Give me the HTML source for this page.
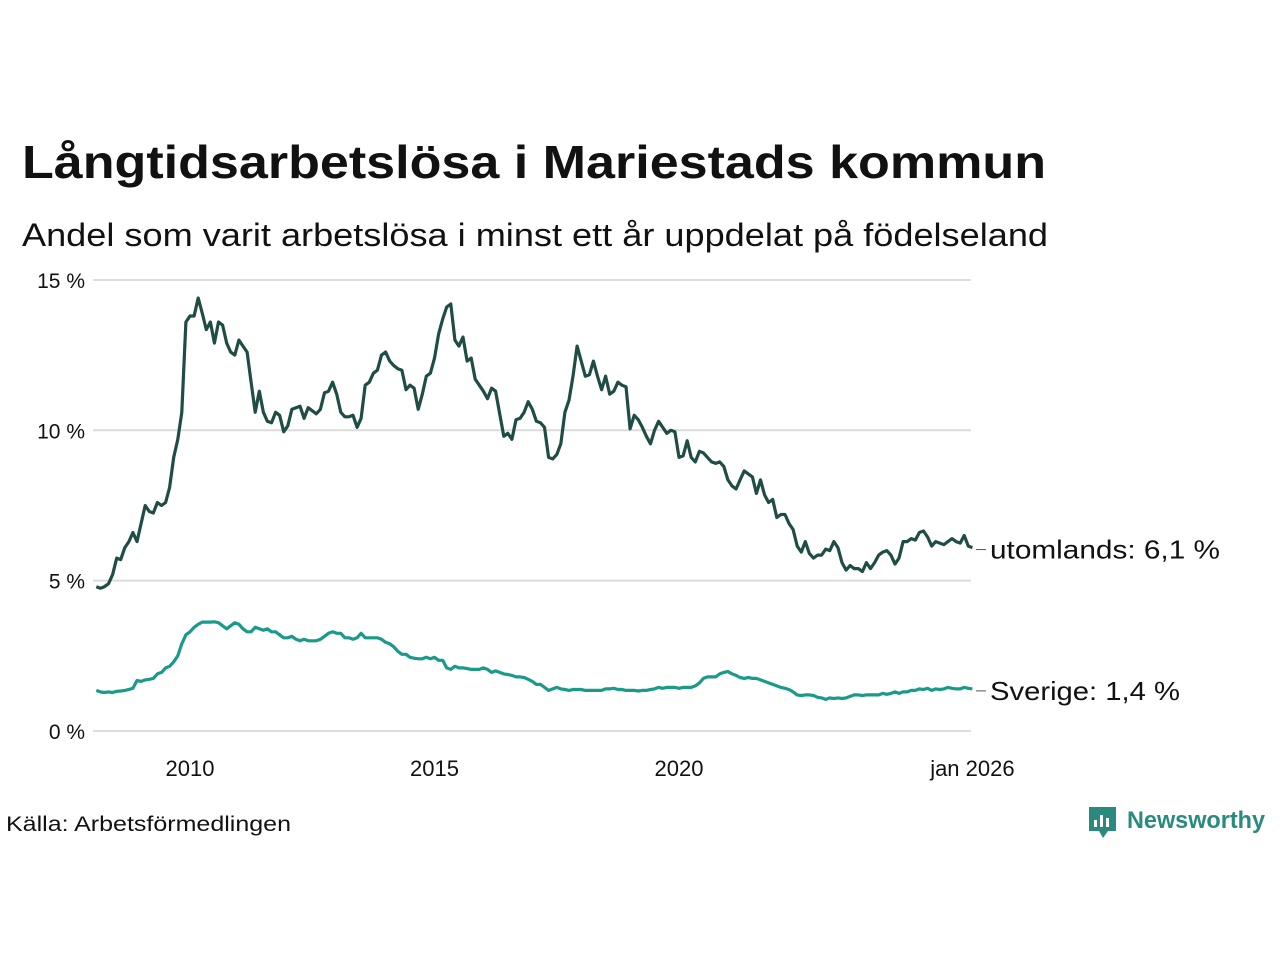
<!DOCTYPE html>
<html><head><meta charset="utf-8"><style>
body{margin:0;background:#fff;width:1280px;height:960px;overflow:hidden;font-family:"Liberation Sans",sans-serif}
</style></head><body>
<svg id="chart" width="1280" height="960" xmlns="http://www.w3.org/2000/svg" font-family="Liberation Sans, sans-serif">
<text x="22" y="178" font-size="46" font-weight="bold" fill="#111" textLength="1024" lengthAdjust="spacingAndGlyphs">Långtidsarbetslösa i Mariestads kommun</text>
<text x="22" y="246" font-size="32" fill="#111" textLength="1026" lengthAdjust="spacingAndGlyphs">Andel som varit arbetslösa i minst ett år uppdelat på födelseland</text>
<g id="grid"></g><g id="lines"></g>
<text x="6" y="831" font-size="21" fill="#111" textLength="285" lengthAdjust="spacingAndGlyphs">Källa: Arbetsförmedlingen</text>
<g>
<path d="M1089 807h27v24h-8l-5 7-4-7h-10z" fill="#2a8a7e"/>
<rect x="1094" y="820" width="3" height="7" fill="#fff"/><rect x="1100" y="815" width="3" height="12" fill="#fff"/><rect x="1106" y="818" width="3" height="9" fill="#fff"/>
<text x="1127" y="828" font-size="24" font-weight="bold" fill="#2a8a7e" textLength="138" lengthAdjust="spacingAndGlyphs">Newsworthy</text>
</g>
</svg>
<script>
const yTicks=[0,5,10,15];
const yTickLabels=["0 %","5 %","10 %","15 %"];
const xTicks=[2010,2015,2020,2026];
const xTickLabels=["2010","2015","2020","jan 2026"];
const startYear=2008, startMonth=1; // Feb 2008 (0-based month)
const utomlands=[4.8,4.75,4.8,4.9,5.2,5.75,5.7,6.1,6.3,6.6,6.3,
6.9,7.5,7.3,7.25,7.6,7.5,7.6,8.1,9.1,9.7,10.6,13.6,
13.8,13.8,14.4,13.9,13.35,13.6,12.9,13.6,13.5,12.9,12.6,12.5,
13.0,12.8,12.6,11.6,10.6,11.3,10.6,10.3,10.25,10.6,10.5,9.95,
10.15,10.7,10.75,10.8,10.4,10.75,10.65,10.55,10.7,11.25,11.3,11.6,
11.2,10.6,10.45,10.45,10.5,10.1,10.4,11.5,11.6,11.9,12.0,12.5,
12.6,12.3,12.15,12.05,12.0,11.35,11.5,11.4,10.7,11.2,11.8,11.9,
12.4,13.2,13.7,14.1,14.2,13.0,12.8,13.1,12.3,12.4,11.7,11.5,
11.3,11.05,11.4,11.3,10.55,9.8,9.9,9.7,10.35,10.4,10.6,10.95,
10.7,10.3,10.25,10.1,9.1,9.05,9.2,9.55,10.6,11.0,11.8,12.8,
12.3,11.8,11.85,12.3,11.8,11.35,11.8,11.2,11.3,11.6,11.5,11.45,
10.05,10.5,10.35,10.1,9.8,9.55,10.0,10.3,10.1,9.9,10.0,9.95,
9.1,9.15,9.65,9.1,8.95,9.3,9.25,9.1,8.95,8.9,8.95,8.8,
8.35,8.15,8.05,8.35,8.65,8.55,8.45,7.9,8.35,7.85,7.6,7.7,
7.1,7.2,7.2,6.9,6.7,6.15,5.95,6.3,5.9,5.75,5.85,5.85,
6.05,6.0,6.3,6.1,5.6,5.35,5.5,5.4,5.4,5.3,5.6,5.4,
5.6,5.85,5.95,6.0,5.85,5.55,5.75,6.3,6.3,6.4,6.35,6.6,
6.65,6.45,6.15,6.3,6.25,6.2,6.3,6.4,6.3,6.25,6.5,6.15,
6.1];
const sverige=[1.35,1.3,1.28,1.3,1.28,1.32,1.33,1.35,1.38,1.42,1.68,
1.65,1.7,1.72,1.75,1.9,1.95,2.1,2.15,2.3,2.5,2.9,3.2,
3.3,3.45,3.55,3.62,3.62,3.62,3.63,3.6,3.5,3.4,3.5,3.6,
3.55,3.4,3.3,3.3,3.45,3.4,3.35,3.4,3.3,3.3,3.2,3.1,
3.1,3.15,3.05,3.0,3.05,3.0,3.0,3.0,3.05,3.15,3.25,3.3,
3.25,3.25,3.1,3.1,3.05,3.1,3.25,3.1,3.1,3.1,3.1,3.05,
2.95,2.9,2.8,2.65,2.55,2.55,2.45,2.42,2.4,2.4,2.45,2.4,
2.45,2.35,2.35,2.1,2.05,2.15,2.1,2.1,2.08,2.05,2.05,2.05,
2.1,2.05,1.95,2.0,1.95,1.9,1.88,1.85,1.8,1.8,1.78,1.72,
1.65,1.55,1.55,1.45,1.35,1.4,1.45,1.4,1.38,1.35,1.38,1.38,
1.38,1.35,1.35,1.35,1.35,1.35,1.4,1.4,1.42,1.38,1.38,1.35,
1.35,1.35,1.33,1.35,1.35,1.38,1.4,1.45,1.42,1.45,1.45,1.45,
1.42,1.45,1.45,1.45,1.5,1.6,1.75,1.8,1.8,1.8,1.9,1.95,
1.98,1.9,1.85,1.78,1.75,1.78,1.75,1.75,1.7,1.65,1.6,1.55,
1.5,1.45,1.42,1.38,1.3,1.2,1.18,1.2,1.2,1.18,1.12,1.1,
1.05,1.1,1.08,1.1,1.08,1.1,1.15,1.2,1.2,1.18,1.2,1.2,
1.2,1.2,1.25,1.22,1.25,1.3,1.25,1.3,1.3,1.35,1.35,1.4,
1.38,1.42,1.35,1.4,1.38,1.4,1.45,1.42,1.4,1.4,1.45,1.42,
1.4];
const NS="http://www.w3.org/2000/svg";
const X=yr=>190+(yr-2010)*48.9;
const Y=v=>731-v*30.07;
const tOf=i=>startYear+(startMonth+i)/12;
const grid=document.getElementById('grid'), lines=document.getElementById('lines');
function mk(tag,attrs,parent){const e=document.createElementNS(NS,tag);for(const k in attrs)e.setAttribute(k,attrs[k]);parent.appendChild(e);return e;}
yTicks.forEach((t,i)=>{
 const l=mk('line',{x1:93,x2:971,y1:Y(t),y2:Y(t),stroke:'#dcdcdc','stroke-width':2},grid);
 
 
 const tx=mk('text',{x:85,y:Y(t)+8,'text-anchor':'end','font-size':21,fill:'#111'},grid);
 tx.textContent=yTickLabels[i];
 
 
});
xTicks.forEach((t,i)=>{
 const tx=mk('text',{x:X(t),y:776,'text-anchor':'middle','font-size':22,fill:'#111'},grid);
 tx.textContent=xTickLabels[i];
 
 
});
function series(arr,color,name,label,lw){
 const d=arr.map((v,i)=>(i?'L':'M')+X(tOf(i)).toFixed(1)+' '+Y(v).toFixed(1)).join(' ');
 const p=mk('path',{d:d,fill:'none',stroke:color,'stroke-width':3.2,'stroke-linejoin':'round'},lines);
 
 
 const last=arr[arr.length-1], ly=Y(last)+2;
 const t=mk('line',{x1:976,x2:986,y1:ly,y2:ly,stroke:'#555','stroke-width':1},lines);
 
 
 const tx=mk('text',{x:990,y:ly+9,'font-size':26,fill:'#111',textLength:lw,lengthAdjust:'spacingAndGlyphs'},lines);
 tx.textContent=label+': '+last.toFixed(1).replace('.',',')+' %';
 
 
}
series(sverige,'#1a9a89','sverige','Sverige',190);
series(utomlands,'#1f4d45','utomlands','utomlands',230);
</script>
</body></html>
